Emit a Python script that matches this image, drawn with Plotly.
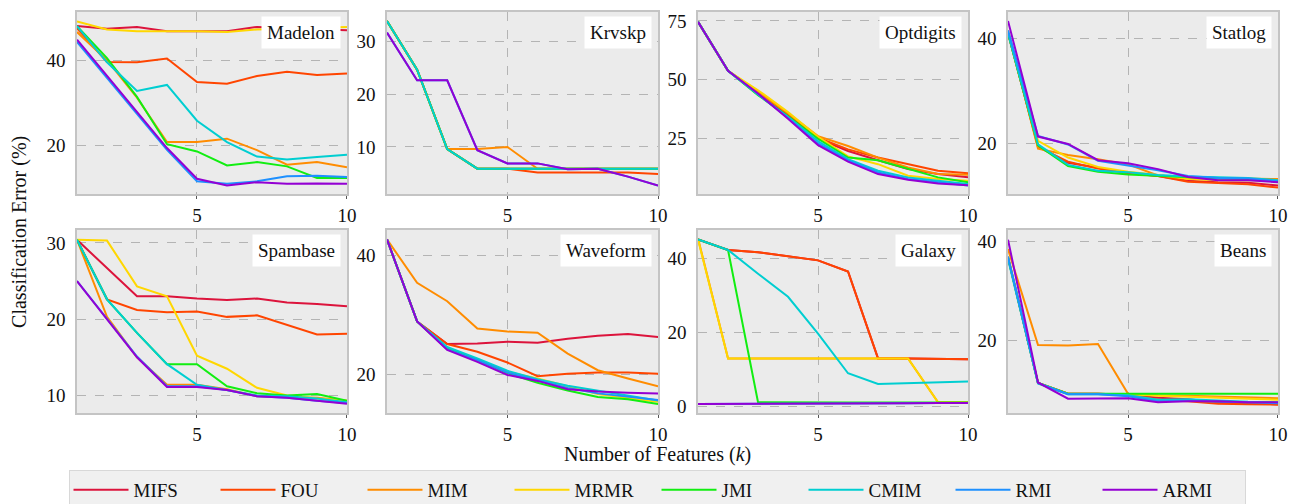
import plotly.graph_objects as go

k_values = [1, 2, 3, 4, 5, 6, 7, 8, 9, 10]
methods = ["MIFS", "FOU", "MIM", "MRMR", "JMI", "CMIM", "RMI", "ARMI"]
colors = ["#dc143c", "#ff4500", "#ff8c00", "#ffd700", "#11ee11", "#00ced1", "#1e90ff", "#9400d3"]
datasets = ["Madelon", "Krvskp", "Optdigits", "Statlog", "Spambase", "Waveform", "Galaxy", "Beans"]

madelon = {
    "MIFS": [48.0, 47.4, 47.8, 46.8, 46.8, 46.8, 47.8, 47.5, 47.3, 47.0],
    "FOU":  [47.5, 39.6, 39.5, 40.4, 34.9, 34.5, 36.3, 37.3, 36.5, 36.9],
    "MIM":  [46.6, 40.0, 31.2, 20.8, 20.8, 21.6, 18.9, 15.5, 16.1, 14.9],
    "MRMR": [49.1, 47.2, 46.8, 46.8, 46.8, 46.6, 47.2, 47.4, 47.6, 47.8],
    "JMI":  [48.0, 40.5, 31.4, 20.3, 18.6, 15.3, 16.1, 15.1, 12.4, 12.4],
    "CMIM": [48.0, 39.5, 32.8, 34.2, 25.8, 20.8, 17.4, 16.7, 17.3, 17.8],
    "RMI":  [44.3, 35.9, 27.4, 19.0, 11.6, 11.0, 11.6, 12.8, 12.9, 12.6],
    "ARMI": [44.8, 36.3, 27.8, 19.4, 12.2, 10.6, 11.4, 11.0, 11.1, 11.0],
}
krvskp = {
    "MIFS": [33.8, 24.6, 9.6, 5.9, 5.9, 5.9, 5.9, 5.9, 5.9, 5.9],
    "FOU":  [33.8, 24.6, 9.6, 5.9, 5.9, 5.2, 5.2, 5.2, 5.2, 4.9],
    "MIM":  [33.8, 24.6, 9.6, 9.6, 10.0, 5.9, 5.9, 5.9, 5.9, 5.9],
    "MRMR": [33.8, 24.6, 9.6, 5.9, 5.9, 5.9, 5.9, 5.9, 5.9, 5.9],
    "JMI":  [33.8, 24.6, 9.6, 5.9, 5.9, 5.9, 5.9, 5.9, 5.9, 5.9],
    "CMIM": [33.8, 24.6, 9.6, 5.9, 5.9, 5.9, 5.9, 5.9, 5.9, 5.9],
    "RMI":  [31.6, 22.6, 22.6, 9.4, 6.9, 6.9, 5.8, 5.9, 4.4, 2.7],
    "ARMI": [31.6, 22.6, 22.6, 9.4, 6.9, 6.9, 5.8, 5.9, 4.4, 2.7],
}
optdigits = {
    "MIFS": [74.6, 53.8, 44.5, 35.0, 25.0, 19.8, 15.9, 12.1, 10.0, 8.6],
    "FOU":  [74.6, 53.8, 44.8, 35.5, 25.5, 20.5, 17.0, 14.2, 11.4, 10.3],
    "MIM":  [74.6, 53.8, 45.0, 35.8, 26.1, 21.9, 17.0, 12.8, 10.0, 9.7],
    "MRMR": [74.6, 53.8, 45.6, 36.3, 25.8, 17.5, 14.2, 9.3, 7.9, 7.2],
    "JMI":  [74.6, 53.8, 43.5, 34.5, 25.0, 17.0, 15.9, 12.1, 8.6, 6.5],
    "CMIM": [74.6, 53.8, 43.8, 34.3, 24.0, 16.3, 11.4, 8.6, 7.2, 5.8],
    "RMI":  [74.6, 53.8, 44.0, 33.8, 23.0, 15.8, 10.7, 7.9, 6.5, 5.1],
    "ARMI": [74.6, 53.8, 44.2, 33.5, 22.3, 15.3, 10.0, 7.6, 6.0, 5.3],
}
statlog = {
    "MIFS": [41.0, 19.5, 16.3, 15.4, 14.4, 13.8, 12.9, 12.6, 12.5, 12.0],
    "FOU":  [41.0, 19.3, 16.5, 15.2, 14.3, 13.8, 12.7, 12.4, 12.2, 11.6],
    "MIM":  [41.5, 19.0, 17.8, 17.0, 16.0, 13.9, 13.5, 13.4, 13.3, 13.2],
    "MRMR": [41.2, 20.5, 17.3, 15.5, 14.6, 14.0, 13.2, 13.0, 13.0, 12.9],
    "JMI":  [40.9, 19.6, 15.7, 14.6, 14.1, 13.8, 13.5, 13.3, 13.2, 12.8],
    "CMIM": [41.0, 19.8, 15.9, 14.8, 14.5, 14.0, 13.7, 13.5, 13.4, 13.0],
    "RMI":  [41.5, 21.4, 19.8, 16.7, 15.8, 14.9, 13.8, 13.4, 13.3, 12.8],
    "ARMI": [43.3, 21.3, 19.9, 16.8, 16.2, 15.1, 13.6, 13.0, 13.0, 12.6],
}
spambase = {
    "MIFS": [30.4, 26.7, 23.0, 23.0, 22.7, 22.5, 22.7, 22.2, 22.0, 21.7],
    "FOU":  [30.4, 22.6, 21.2, 20.9, 21.0, 20.3, 20.5, 19.3, 18.0, 18.1],
    "MIM":  [30.4, 20.3, 15.0, 11.4, 11.4, 10.8, 9.9, 9.8, 9.7, 9.3],
    "MRMR": [30.4, 30.3, 24.3, 23.0, 15.2, 13.5, 11.0, 10.0, 9.6, 9.3],
    "JMI":  [30.4, 22.6, 18.2, 14.1, 14.1, 11.2, 10.3, 10.0, 10.2, 9.3],
    "CMIM": [30.4, 22.6, 18.2, 14.1, 11.4, 10.7, 10.0, 9.9, 9.6, 9.1],
    "RMI":  [25.0, 20.0, 15.1, 11.2, 11.2, 10.7, 9.9, 9.7, 9.3, 9.0],
    "ARMI": [25.0, 20.0, 15.0, 11.1, 11.1, 10.7, 9.9, 9.7, 9.3, 8.9],
}
waveform = {
    "MIFS": [42.7, 28.9, 25.1, 25.2, 25.5, 25.3, 26.0, 26.5, 26.8, 26.3],
    "FOU":  [42.7, 28.9, 25.1, 23.8, 22.0, 19.7, 20.1, 20.3, 20.3, 20.1],
    "MIM":  [42.7, 35.4, 32.3, 27.7, 27.2, 27.0, 23.5, 20.7, 19.3, 18.0],
    "MRMR": [42.7, 28.9, 24.3, 22.5, 20.4, 19.3, 18.0, 16.7, 16.0, 15.4],
    "JMI":  [42.7, 28.9, 24.4, 22.4, 20.2, 18.6, 17.3, 16.2, 15.8, 15.0],
    "CMIM": [42.7, 28.9, 24.6, 22.7, 20.6, 19.2, 18.1, 17.3, 16.4, 15.6],
    "RMI":  [42.7, 28.9, 24.2, 22.4, 20.3, 19.0, 17.7, 16.8, 16.3, 15.7],
    "ARMI": [42.7, 28.9, 24.1, 22.1, 19.9, 18.9, 17.5, 17.1, 16.9, 16.8],
}
galaxy = {
    "MIFS": [45.0, 42.2, 41.6, 40.5, 39.4, 36.4, 13.0, 13.0, 13.0, 12.8],
    "FOU":  [45.0, 42.2, 41.6, 40.5, 39.4, 36.4, 13.0, 13.0, 13.0, 12.8],
    "MIM":  [45.3, 13.0, 13.0, 13.0, 13.0, 13.0, 13.0, 13.0, 1.2, 1.2],
    "MRMR": [45.0, 13.0, 13.0, 13.0, 13.0, 13.0, 13.0, 13.0, 1.2, 1.2],
    "JMI":  [45.0, 42.2, 1.2, 1.1, 1.1, 1.1, 1.1, 1.1, 1.1, 1.1],
    "CMIM": [45.0, 42.2, 35.8, 29.6, 19.7, 9.0, 6.1, 6.3, 6.6, 6.8],
    "RMI":  [0.7, 0.7, 0.8, 0.8, 0.8, 0.9, 0.9, 0.9, 1.0, 1.0],
    "ARMI": [0.7, 0.7, 0.8, 0.8, 0.8, 0.9, 0.9, 0.9, 1.0, 1.0],
}
beans = {
    "MIFS": [36.8, 11.3, 9.1, 9.1, 8.9, 8.3, 8.0, 7.4, 7.2, 7.0],
    "FOU":  [36.8, 11.3, 9.1, 9.1, 8.9, 7.9, 7.6, 7.1, 7.0, 6.9],
    "MIM":  [38.5, 19.0, 18.9, 19.2, 9.1, 8.8, 8.7, 8.5, 8.4, 8.2],
    "MRMR": [37.0, 11.3, 9.1, 9.1, 9.0, 8.7, 8.5, 8.3, 8.1, 7.9],
    "JMI":  [36.8, 11.3, 9.1, 9.1, 9.1, 9.1, 9.1, 9.2, 9.1, 9.1],
    "CMIM": [36.5, 11.2, 9.0, 9.0, 8.8, 7.9, 8.0, 7.7, 7.5, 7.4],
    "RMI":  [37.0, 11.3, 9.0, 9.0, 8.6, 7.6, 7.7, 7.5, 7.3, 7.2],
    "ARMI": [40.4, 11.4, 8.1, 8.1, 8.2, 7.4, 7.6, 7.6, 7.4, 7.4],
}
all_data = [madelon, krvskp, optdigits, statlog, spambase, waveform, galaxy, beans]
y_ranges = [[8.6, 51.3], [1.1, 35.5], [1.5, 78.8], [10.35, 45.0],
            [7.7, 31.7], [13.5, 44.3], [-1.7, 47.6], [5.2, 42.4]]
y_dticks = [20, 10, 25, 20, 10, 20, 20, 20]

FONT = "Liberation Serif"
col_domains = [[0.0, 0.2248], [0.2581, 0.4838], [0.5171, 0.7419], [0.7752, 1.0]]
row_domains = [[0.5459, 1.0], [0.0, 0.4566]]

fig = go.Figure()
layout_axes = {}
annotations = []
for i, (name, data) in enumerate(zip(datasets, all_data)):
    r, c = divmod(i, 4)
    n = "" if i == 0 else str(i + 1)
    xa, ya = "x" + n, "y" + n
    for m, col in zip(methods, colors):
        fig.add_trace(go.Scatter(
            x=k_values, y=data[m], mode="lines", name=m,
            line=dict(color=col, width=2), legendgroup=m,
            showlegend=(i == 0), xaxis=xa, yaxis=ya))
    layout_axes["xaxis" + n] = dict(
        domain=col_domains[c], anchor=ya, range=[1, 10], tick0=0, dtick=5,
        showgrid=True, gridcolor="#b4b4b4", griddash="dash", gridwidth=1,
        showline=True, mirror=True, linecolor="#c4c4c4", linewidth=1.5,
        ticks="outside", ticklen=3, tickcolor="#555555", zeroline=False,
        tickfont=dict(family=FONT, size=19, color="#111111"))
    layout_axes["yaxis" + n] = dict(
        domain=row_domains[r], anchor=xa, range=y_ranges[i], tick0=0, dtick=y_dticks[i],
        showgrid=True, gridcolor="#b4b4b4", griddash="dash", gridwidth=1,
        showline=True, mirror=True, linecolor="#c4c4c4", linewidth=1.5,
        ticks="", zeroline=False, ticklabelstandoff=6,
        tickfont=dict(family=FONT, size=19, color="#111111"))
    annotations.append(dict(
        text=name, xref=xa + " domain", yref=ya + " domain", x=1, y=1,
        xanchor="right", yanchor="top", xshift=-6, yshift=-4, showarrow=False,
        bgcolor="white", borderpad=5, font=dict(family=FONT, size=19, color="#111111")))

annotations.append(dict(
    text="Number of Features (<i>k</i>)", xref="paper", yref="paper",
    x=(657 - 77) / 1201, y=(413 - 455) / 403, xanchor="center", yanchor="middle",
    showarrow=False, font=dict(family=FONT, size=20, color="#111111")))
annotations.append(dict(
    text="Classification Error (%)", xref="paper", yref="paper",
    x=(20 - 77) / 1201, y=(413 - 231) / 403, xanchor="center", yanchor="middle", textangle=-90,
    showarrow=False, font=dict(family=FONT, size=20, color="#111111")))

fig.update_layout(
    width=1298, height=504,
    margin=dict(l=77, r=20, t=10, b=91),
    paper_bgcolor="white", plot_bgcolor="#ebebeb",
    font=dict(family=FONT, size=19, color="#111111"),
    showlegend=True,
    legend=dict(orientation="h", xref="container", yref="container",
                x=657 / 1298, y=1 - 470 / 504, xanchor="center", yanchor="top",
                bgcolor="#f0f0f0", bordercolor="#d8d8d8", borderwidth=1,
                entrywidth=77, entrywidthmode="pixels",
                font=dict(family=FONT, size=19, color="#111111"), itemwidth=55),
    annotations=annotations,
    **layout_axes,
)

fig.write_html("out.html", config={"displayModeBar": False},
               post_script="document.body.style.margin='0';document.body.style.overflow='hidden';")
